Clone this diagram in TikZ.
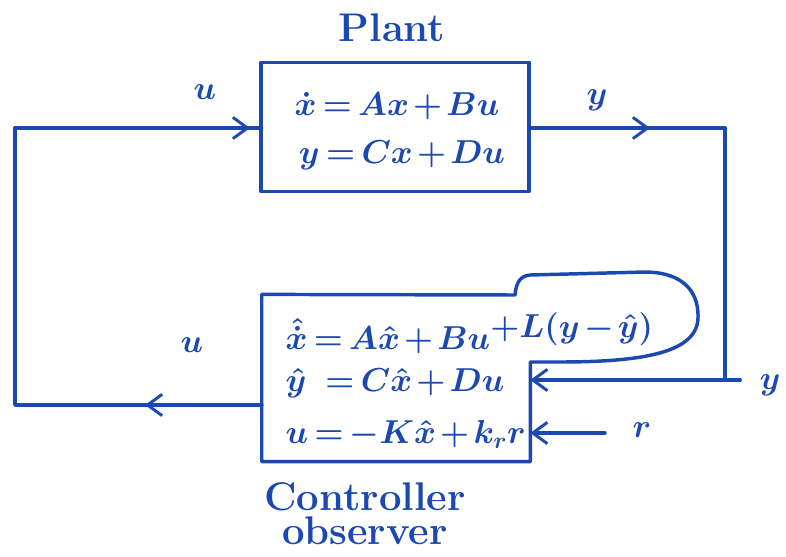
\documentclass[tikz,border=0pt]{standalone}
\usetikzlibrary{arrows.meta}
\usepackage{amsmath}
\definecolor{pen}{RGB}{28,72,178}
\newcommand{\tightmath}{\thinmuskip=2mu\medmuskip=2mu plus 1mu\thickmuskip=3mu plus 1mu}
\begin{document}
\begin{tikzpicture}[x=0.75pt,y=-0.75pt,
  ink/.style={draw=pen,line width=2.6pt,line cap=round,line join=round},
  tip/.style={-{Straight Barb[length=11pt,width=16pt,line width=2.2pt]}},
  lbl/.style={text=pen,inner sep=1pt,font=\fontsize{30}{30}\selectfont\bfseries\boldmath},
  eq/.style={text=pen,inner sep=1pt,font=\fontsize{24}{28}\selectfont\boldmath\tightmath}]
\useasboundingbox (0,0) rectangle (786,557);
% Plant
\node[ink,minimum width=201pt,minimum height=97pt,inner sep=0pt] (plant) at (395,127) {};
\node[eq] (peq1) at (397,106) {$\dot{x}=Ax+Bu$};
\node[eq] (peq2) at (402,155) {$y=Cx+Du$};
\node[lbl] (ptitle) at (392,28) {Plant};
% controller
\node[minimum width=201pt,minimum height=125pt,inner sep=0pt] (ctrl) at (396,378) {};
\draw[ink] (ctrl.south east) -- (ctrl.north east |- 0,362)
  -- (560,362) .. controls (645,362) and (697,352) .. (698,318)
  .. controls (699,285) and (675,272) .. (645,272)
  -- (530,275) .. controls (518,276) and (516,286) .. (515,295)
  -- (ctrl.north west) -- (ctrl.south west) -- cycle;
\node[eq,anchor=west] (c1) at (284,333) {$\hat{\dot{x}}=A\hat{x}+Bu$\raisebox{9pt}{\fontsize{24}{28}\selectfont$+L(y-\hat{y})$}};
\node[eq,anchor=west] (c2) at (284,383) {$\hat{y}\;\;=C\hat{x}+Du$};
\node[eq,anchor=west] (c3) at (284,434) {$u=-K\hat{x}+k_{r}r$};
\node[lbl] (ctitle1) at (365,497) {Controller};
\node[lbl] (ctitle2) at (365,531) {observer};
% coordinates
\coordinate (ul) at (15,128);
\coordinate (yr) at (725,128);
\coordinate (yb) at (740,380);
\coordinate (ub) at (28,405);
\coordinate (rs) at (605,433);
% connectors
\draw[ink] (ul) -- (ul -| plant.west);
\draw[ink,tip] (ul) -- (250,128);
\draw[ink] (plant.east |- yr) -- (yr);
\draw[ink,tip] (plant.east |- yr) -- (650,128);
\draw[ink] (yr) -- (725,380) -- (yb);
\draw[ink,tip] (yb) -- (ctrl.east |- yb);
\draw[ink] (ctrl.west |- ub) -- (ub);
\draw[ink,tip] (ctrl.west |- ub) -- (145,405);
\draw[ink] (ul) -- (15,405) -- (ub);
\draw[ink,tip] (rs) -- (ctrl.east |- rs);
% labels
\node[lbl] (lu1) at (205,92) {$u$};
\node[lbl] (ly1) at (597,100) {$y$};
\node[lbl] (ly2) at (770,385) {$y$};
\node[lbl] (lu2) at (192,345) {$u$};
\node[lbl] (lr) at (642,430) {$r$};
\end{tikzpicture}
\end{document}
